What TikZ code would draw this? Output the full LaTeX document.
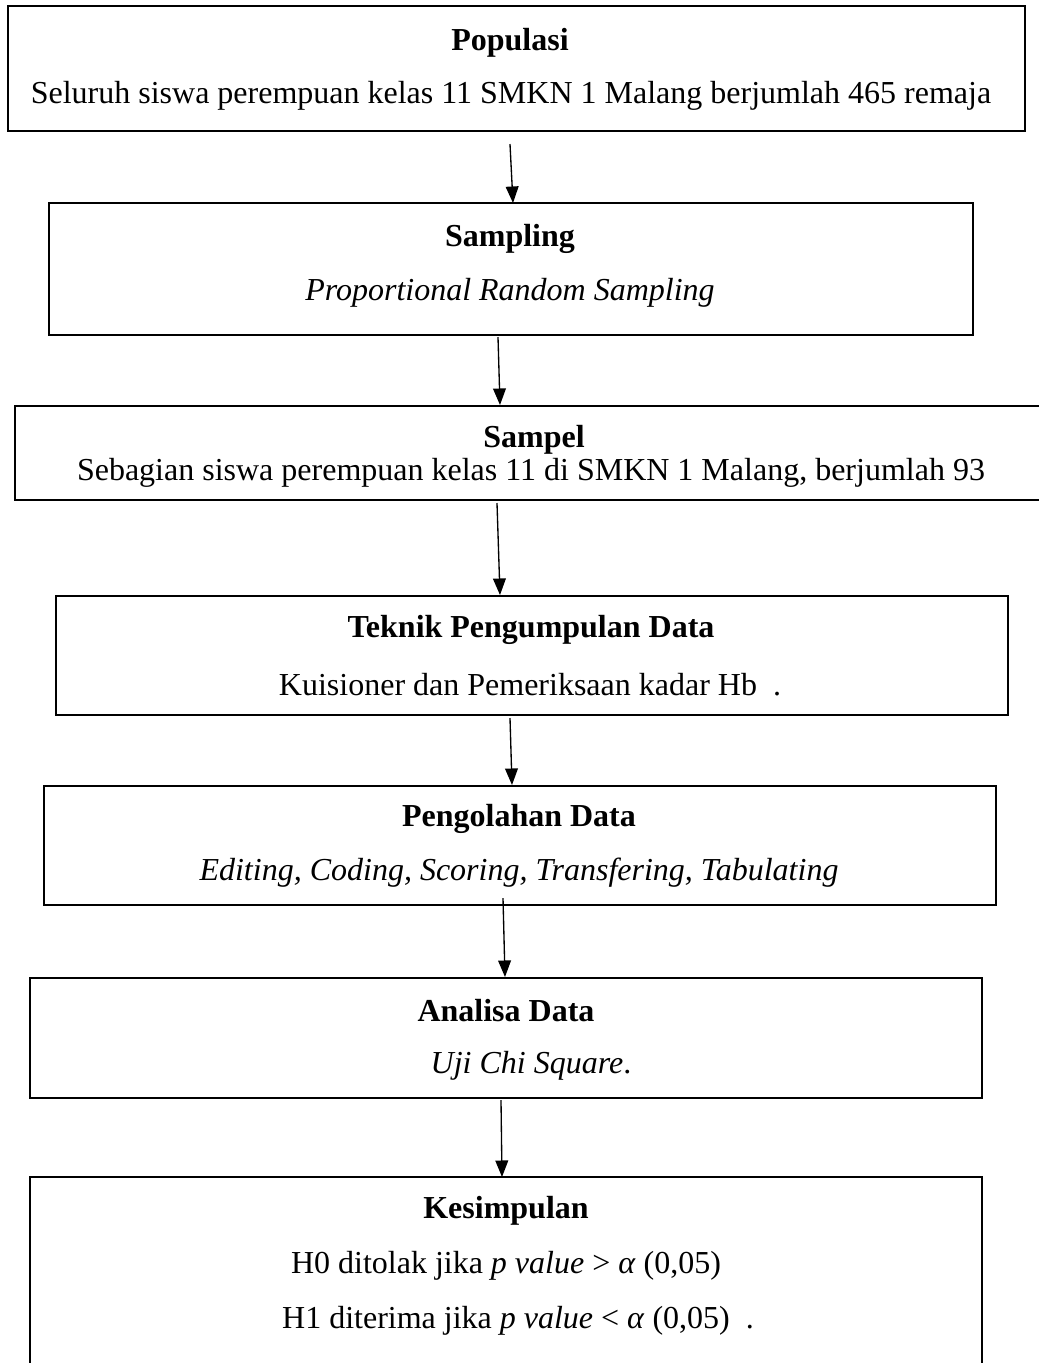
\documentclass[tikz,border=0pt]{standalone}
\usepackage{fontspec}
\setmainfont{Liberation Serif}
\usepackage{tikz}
\usetikzlibrary{arrows.meta}

\begin{document}
\begin{tikzpicture}[x=0.375pt, y=-0.375pt, font=\fontsize{12pt}{14pt}\selectfont,
	kotak/.style={draw, line width=0.7pt, inner sep=0pt, minimum width=#1},
	judul/.style={font=\fontsize{12pt}{14pt}\selectfont\bfseries, inner sep=0pt, yshift=-1.1pt},
	isi/.style={inner sep=0pt, yshift=-1.1pt},
	panah/.style={line width=0.5pt, -{Triangle[length=6.2pt, width=4.8pt]}}]
	\clip (0,0) rectangle (1039,1363);
	\fill[white] (0,0) rectangle (1039,1363);

	\node[kotak=381.4pt, minimum height=46.9pt] (pop) at (516.5,68.5) {};
	\node[kotak=346.5pt, minimum height=49.5pt] (smpl) at (511,269) {};
	\node[kotak=389.3pt, minimum height=35.3pt] (spl) at (534,453) {};
	\node[kotak=357pt, minimum height=44.6pt] (tek) at (532,655.5) {};
	\node[kotak=357pt, minimum height=44.6pt] (olah) at (520,845.5) {};
	\node[kotak=357pt, minimum height=45pt] (anl) at (506,1038) {};
	\node[kotak=357pt, minimum height=76.1pt] (simp) at (506,1278.5) {};

	\node[judul] (pop-t) at (510,40) {Populasi};
	\node[isi] (pop-i) at (511,93) {Seluruh siswa perempuan kelas 11 SMKN 1 Malang berjumlah 465 remaja};
	\node[judul] (smpl-t) at (510,236) {Sampling};
	\node[isi] (smpl-i) at (510,290) {\textit{Proportional Random Sampling}};
	\node[judul] (spl-t) at (534,437) {Sampel};
	\node[isi] (spl-i) at (531,470) {Sebagian siswa perempuan kelas 11 di SMKN 1 Malang, berjumlah 93};
	\node[judul] (tek-t) at (531,627) {Teknik Pengumpulan Data};
	\node[isi] (tek-i) at (530,682) {Kuisioner dan Pemeriksaan kadar Hb\ \ .};
	\node[judul] (olah-t) at (519,816) {Pengolahan Data};
	\node[isi] (olah-i) at (519,870) {\textit{Editing, Coding, Scoring, Transfering, Tabulating}};
	\node[judul] (anl-t) at (506,1008) {Analisa Data};
	\node[isi] (anl-i) at (531,1063) {\textit{Uji Chi Square}.};
	\node[judul] (simp-t) at (506,1208) {Kesimpulan};
	\node[isi] (simp-i1) at (506,1263) {H0 ditolak jika \textit{p value} > \textit{α} (0,05)};
	\node[isi] (simp-i2) at (518,1318) {H1 diterima jika \textit{p value} < \textit{α} (0,05)\ \ .};

	\coordinate (a1s) at (510,144);  \coordinate (a1e) at (513,203);
	\coordinate (a2s) at (498,337);  \coordinate (a2e) at (500,405);
	\coordinate (a3s) at (497,503);  \coordinate (a3e) at (500,595);
	\coordinate (a4s) at (510,718);  \coordinate (a4e) at (512,785);
	\coordinate (a5s) at (503,898);  \coordinate (a5e) at (505,977);
	\coordinate (a6s) at (501,1100); \coordinate (a6e) at (502,1177);

	\draw[panah] (a1s) -- (a1e);
	\draw[panah] (a2s) -- (a2e);
	\draw[panah] (a3s) -- (a3e);
	\draw[panah] (a4s) -- (a4e);
	\draw[panah] (a5s) -- (a5e);
	\draw[panah] (a6s) -- (a6e);
\end{tikzpicture}
\end{document}
